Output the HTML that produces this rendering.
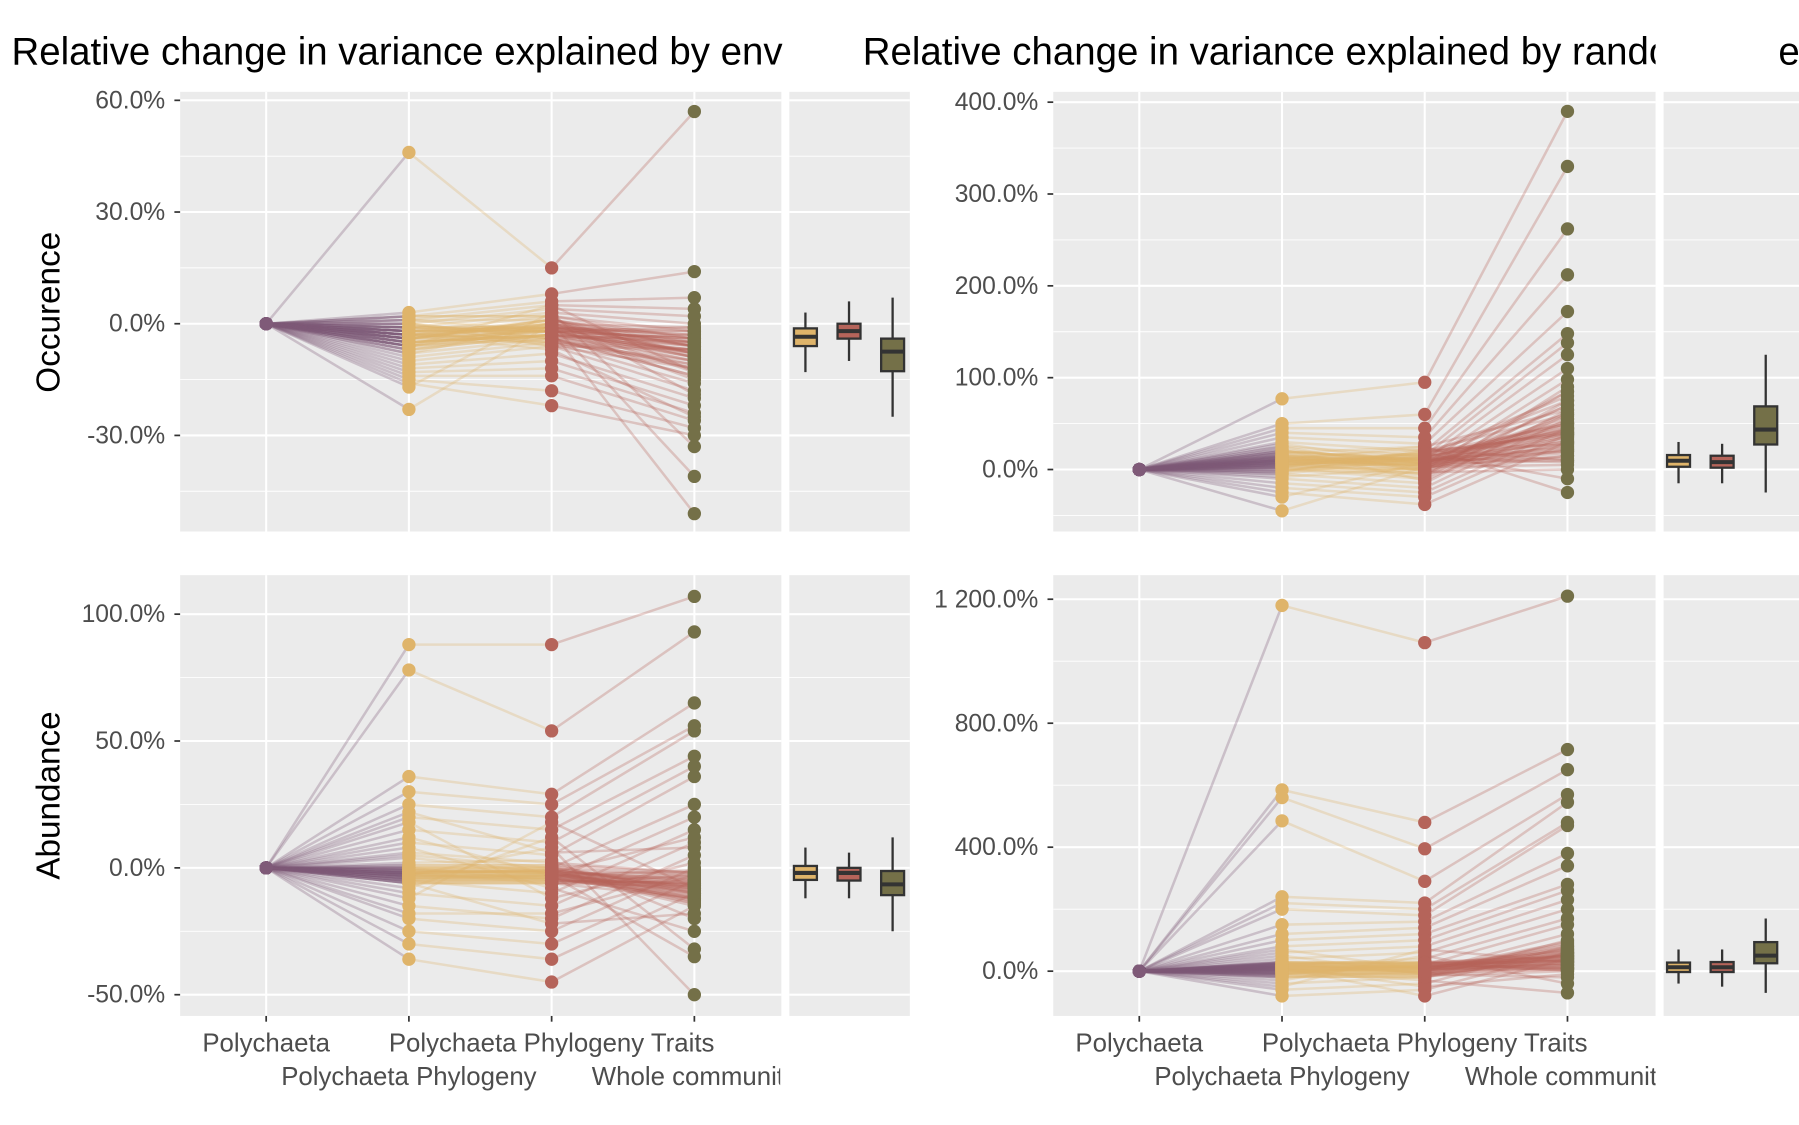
<!DOCTYPE html>
<html><head><meta charset="utf-8"><style>
html,body{margin:0;padding:0;background:#fff;}
svg{display:block;font-family:"Liberation Sans",Arial,sans-serif;}
</style></head><body>
<svg id="chart" width="1799" height="1125" viewBox="0 0 1568 980" preserveAspectRatio="none" xmlns="http://www.w3.org/2000/svg">
<defs>
<clipPath id="ctl"><rect x="0" y="0" width="682" height="80"/></clipPath>
<clipPath id="ctr"><rect x="740" y="0" width="703" height="80"/></clipPath>
<clipPath id="clabL"><rect x="150" y="880" width="530" height="100"/></clipPath>
<clipPath id="clabR"><rect x="910" y="880" width="533" height="100"/></clipPath>
</defs>
<g id="root"></g>
</svg>
<script>
const categories=["Polychaeta","Polychaeta Phylogeny","Polychaeta Phylogeny Traits","Whole community"];
const occEnvPhy=[46,3,2,1,0,-1,-2,-3,-4,-5,-6,-7,-8,-9,-10,-11,-12,-13,-14,-15,-16,-17,-23,1,-2,-4,-6,0,2,-3,-1,-2,-3,-4,-5,-6,-2,-3,-4,-1,0,1,2,-5,-6,-7,-3,-2,-4,-5,-1,-3,-2,-6,-4,-5,0,-1,-3,-2,-4,-7,-8,-2,-3,-1,-5,-4,-6,-3];
const occEnvTra=[15,8,6,5,4,3,2,1,0,-1,-2,-3,-4,-5,-6,-8,-10,-12,-14,-18,-22,3,0,-2,-1,1,5,-4,2,-7,-1,-2,0,1,-3,-4,-2,-1,0,-5,-6,1,2,-2,-3,-1,-4,0,-2,-3,-1,-5,-2,0,1,-3,-4,-2,-1,-6,-2,-3,0,-1,-4,-2,-3,-5,-1,-2];
const occEnvWho=[57,14,7,4,2,0,-2,-4,-6,-8,-10,-12,-14,-16,-18,-20,-22,-24,-26,-28,-30,-33,-41,-51,-5,-9,-13,-3,-19,-25,-2,-4,-6,-8,-5,-7,-9,-3,-1,-10,-12,-6,-4,-8,-7,-5,-11,-13,-2,-6,-9,-7,-4,-8,-5,-10,-14,-6,-3,-7,-9,-5,-8,-6,-12,-4,-7,-11,-15,-1];
const occRanPhy=[77,50,45,40,35,30,25,20,15,10,5,0,-5,-10,-15,-20,-25,-30,-45,12,8,3,18,22,-8,28,2,6,-2,14,5,10,15,8,12,3,0,-3,20,18,7,10,14,9,6,2,-5,11,13,25,4,8,16,10,1,12,22,6,9,-2,15,11,7,3,19,10,5,13,8,17];
const occRanTra=[95,60,45,35,28,20,15,10,5,0,-5,-10,-15,-20,-25,-30,-38,8,3,12,-3,18,25,-12,2,6,-8,14,22,-1,6,12,8,15,3,0,-4,20,10,14,9,5,2,18,11,7,13,25,4,-2,16,10,8,12,1,22,6,9,3,15,11,7,-5,19,10,5,13,8,17,2];
const occRanWho=[390,330,262,212,172,148,138,125,110,98,85,75,65,55,45,38,30,22,15,8,0,-10,-25,60,40,20,90,50,10,70,10,20,35,42,50,28,15,60,45,38,25,55,70,40,30,18,48,65,33,22,80,12,44,52,36,27,58,41,5,75,46,31,62,39,24,85,43,37,50,29];
const abEnvPhy=[88,78,36,30,25,20,15,10,5,0,-5,-10,-15,-20,-25,-30,-36,2,8,-8,12,-3,18,-12,4,-18,22,-2,6,-6,-2,-4,-1,0,-3,-5,-2,-6,1,-1,-3,-4,-2,0,-5,-1,-3,-2,-4,-6,0,-2,-3,-1,-4,-5,-2,1,-3,-1,-2,-4,-3,0,-5,-1,-2,-6,-3,-4];
const abEnvTra=[88,54,29,25,20,15,10,5,0,-5,-10,-15,-20,-25,-30,-36,-45,3,-8,12,-3,8,-12,18,-2,-18,6,-6,2,-22,-1,-3,-2,0,-4,-5,-1,-6,1,-2,-3,-4,-1,0,-5,-2,-3,-1,-4,-6,0,-2,-3,-1,-4,-5,-2,1,-3,-1,-2,-4,-3,0,-5,-1,-2,-6,-3,-4];
const abEnvWho=[107,93,65,56,54,44,40,36,25,20,15,10,5,0,-5,-10,-15,-20,-25,-32,-35,-50,2,-8,12,-3,8,-12,-2,-18,-5,-8,-10,-3,-12,-6,-14,-7,-2,-9,-11,-4,-13,-8,-6,-10,-1,-7,-12,-5,-9,-15,-3,-8,-11,-6,-4,-10,-7,-13,-2,-9,-5,-12,-8,-6,-14,-3,-10,-7];
const abRanPhy=[1180,585,560,485,240,220,200,150,120,100,80,60,40,20,0,-20,-40,-60,-80,10,30,-10,50,-30,5,70,-50,15,-5,25,0,10,20,-10,5,15,30,-20,8,12,25,-5,2,18,-15,6,22,3,-8,14,28,-12,9,1,16,-3,11,24,-18,7,4,19,-6,13,27,-9,17,21,-2,26];
const abRanTra=[1060,480,395,290,220,200,180,160,140,120,100,80,60,40,20,0,-20,-40,-60,-80,10,30,-10,50,-30,5,70,-50,15,-5,5,15,-5,20,0,10,25,-15,8,12,30,-10,2,18,-20,6,22,3,-8,14,28,-12,9,1,16,-3,11,24,-18,7,4,19,-6,13,27,-9,17,21,-2,26];
const abRanWho=[1210,715,650,570,545,480,470,380,340,280,260,230,200,170,150,120,100,80,60,40,20,0,-20,-40,-70,10,30,-10,50,5,20,40,60,10,80,30,50,0,70,25,45,15,90,35,55,5,65,85,28,48,18,38,75,58,8,42,62,33,52,22,95,12,68,44,27,57,37,47,72,32];
const ticksOccEnv=[60,30,0,-30];
const ticksOccRan=[400,300,200,100,0];
const ticksAbEnv=[100,50,0,-50];
const ticksAbRan=[1200,800,400,0];

const NS="http://www.w3.org/2000/svg";
const root=document.getElementById('root');
const colors=["#7f5a78","#dfb46a","#b5645a","#747048"];
function mk(tag,attrs,parent){const e=document.createElementNS(NS,tag);for(const k in attrs)e.setAttribute(k,attrs[k]);(parent||root).appendChild(e);return e;}
function fmt(v){let s=Math.abs(v).toFixed(1);if(Math.abs(v)>=1000){s=s.replace(/^(\d)(\d{3})/,"$1 $2");}return (v<0?"-":"")+s+"%";}
function q(arr,p){const s=[...arr].sort((a,b)=>a-b);const i=(s.length-1)*p;const lo=Math.floor(i),hi=Math.ceil(i);return s[lo]+(s[hi]-s[lo])*(i-lo);}

function panel(cfg){
  const {x0,x1,bx0,bx1,y0,y1,v0,p0,v1,p1,ticks,phy,tra,who,name}=cfg;
  const ys=v=>p0+(v-v0)*(p1-p0)/(v1-v0);
  const xs=[0,1,2,3].map(i=>cfg.cx0+i*cfg.dx);
  const g=mk('g',{});
  
  
  mk('rect',{x:x0,y:y0,width:x1-x0,height:y1-y0,fill:"#ebebeb"},g);
  mk('rect',{x:bx0,y:y0,width:bx1-bx0,height:y1-y0,fill:"#ebebeb"},g);
  const step=ticks[0]-ticks[1];
  for(let v=ticks[ticks.length-1]-step/2;v<=ticks[0]+step;v+=step){const y=ys(v);if(y>y0&&y<y1){mk('line',{x1:x0,x2:x1,y1:y,y2:y,stroke:"#fff","stroke-width":0.8},g);mk('line',{x1:bx0,x2:bx1,y1:y,y2:y,stroke:"#fff","stroke-width":0.8},g);}}
  ticks.forEach(t=>{const y=ys(t);
    mk('line',{x1:x0,x2:x1,y1:y,y2:y,stroke:"#fff","stroke-width":1.8},g);
    mk('line',{x1:bx0,x2:bx1,y1:y,y2:y,stroke:"#fff","stroke-width":1.8},g);
    mk('line',{x1:x0-5,x2:x0,y1:y,y2:y,stroke:"#333","stroke-width":1.5},g);
    const tl=mk('text',{x:x0-13,y:y+7,"text-anchor":"end","font-size":21.5,fill:"#4d4d4d"},g);tl.textContent=fmt(t);
    
    
  });
  xs.forEach(x=>mk('line',{x1:x,x2:x,y1:y0,y2:y1,stroke:"#fff","stroke-width":1.8},g));
  const series=[phy.map(()=>0),phy,tra,who];
  for(let s=0;s<3;s++){
    series[s+1].forEach((v,i)=>{const l=mk('line',{x1:xs[s],y1:ys(series[s][i]),x2:xs[s+1],y2:ys(v),stroke:colors[s+1===1?0:s],"stroke-width":2.2,"stroke-opacity":0.3},g);
      
      });
  }
  for(let s=0;s<4;s++){
    series[s].forEach(v=>{const c=mk('circle',{cx:xs[s],cy:ys(v),r:5.8,fill:colors[s]},g);
      
      });
  }
  [phy,tra,who].forEach((arr,k)=>{
    const cx=cfg.bcx0+k*38, w=20;
    const Q1=q(arr,0.25),Q2=q(arr,0.5),Q3=q(arr,0.75),iqr=Q3-Q1;
    const lo=Math.min(...arr.filter(v=>v>=Q1-1.5*iqr));
    const hi=Math.max(...arr.filter(v=>v<=Q3+1.5*iqr));
    const bg=mk('g',{},g);
    
    
    mk('line',{x1:cx,x2:cx,y1:Math.max(y0,ys(hi)),y2:Math.min(y1,ys(lo)),stroke:"#333","stroke-width":2},bg);
    mk('rect',{x:cx-w/2,y:ys(Q3),width:w,height:Math.max(1,ys(Q1)-ys(Q3)),fill:colors[k+1],stroke:"#333","stroke-width":2},bg);
    mk('line',{x1:cx-w/2,x2:cx+w/2,y1:ys(Q2),y2:ys(Q2),stroke:"#333","stroke-width":3.5},bg);
  });
  if(cfg.xlab){
    const cl=mk('g',{"clip-path":cfg.clip},g);
    xs.forEach((x,i)=>{mk('line',{x1:x,x2:x,y1:y1,y2:y1+5,stroke:"#333","stroke-width":1.5},g);
      const t=mk('text',{x:x,y:i%2?945:916,"text-anchor":"middle","font-size":22.5,fill:"#4d4d4d"},cl);t.textContent=categories[i];
      
      });
  }
}
panel({name:'occurrence-env',x0:157,x1:681,bx0:688,bx1:793,y0:80,y1:463,v0:0,p0:282,v1:30,p1:184.7,ticks:ticksOccEnv,phy:occEnvPhy,tra:occEnvTra,who:occEnvWho,cx0:232,dx:124.4,bcx0:702});
panel({name:'occurrence-rand',x0:918,x1:1443,bx0:1450,bx1:1568,y0:80,y1:463,v0:0,p0:409,v1:100,p1:329,ticks:ticksOccRan,phy:occRanPhy,tra:occRanTra,who:occRanWho,cx0:993,dx:124.4,bcx0:1463});
panel({name:'abundance-env',x0:157,x1:681,bx0:688,bx1:793,y0:501,y1:885,v0:0,p0:756,v1:50,p1:645.5,ticks:ticksAbEnv,phy:abEnvPhy,tra:abEnvTra,who:abEnvWho,cx0:232,dx:124.4,bcx0:702,xlab:true,clip:"url(#clabL)"});
panel({name:'abundance-rand',x0:918,x1:1443,bx0:1450,bx1:1568,y0:501,y1:885,v0:0,p0:846,v1:400,p1:738,ticks:ticksAbRan,phy:abRanPhy,tra:abRanTra,who:abRanWho,cx0:993,dx:124.4,bcx0:1463,xlab:true,clip:"url(#clabR)"});
</script>
<script>
(function(){
const NS="http://www.w3.org/2000/svg";const svg=document.getElementById('chart');
function t(txt,a,name){const e=document.createElementNS(NS,'text');for(const k in a)e.setAttribute(k,a[k]);e.textContent=txt;svg.appendChild(e);

return e;}
t("Relative change in variance explained by environment",{x:10,y:56,"font-size":33.5,fill:"#000","clip-path":"url(#ctl)"},"title-left");
t("Relative change in variance explained by random effects",{x:752,y:56,"font-size":33.5,fill:"#000","clip-path":"url(#ctr)"},"title-right");
t("ed",{x:1550,y:56,"font-size":33.5,fill:"#000"},"title-fragment");
t("Occurence",{x:0,y:0,"font-size":29,fill:"#000","text-anchor":"middle",transform:"translate(52,272) rotate(-90)"},"y-axis-title-occurrence");
t("Abundance",{x:0,y:0,"font-size":29,fill:"#000","text-anchor":"middle",transform:"translate(52,693) rotate(-90)"},"y-axis-title-abundance");
})();
</script>
</body></html>
